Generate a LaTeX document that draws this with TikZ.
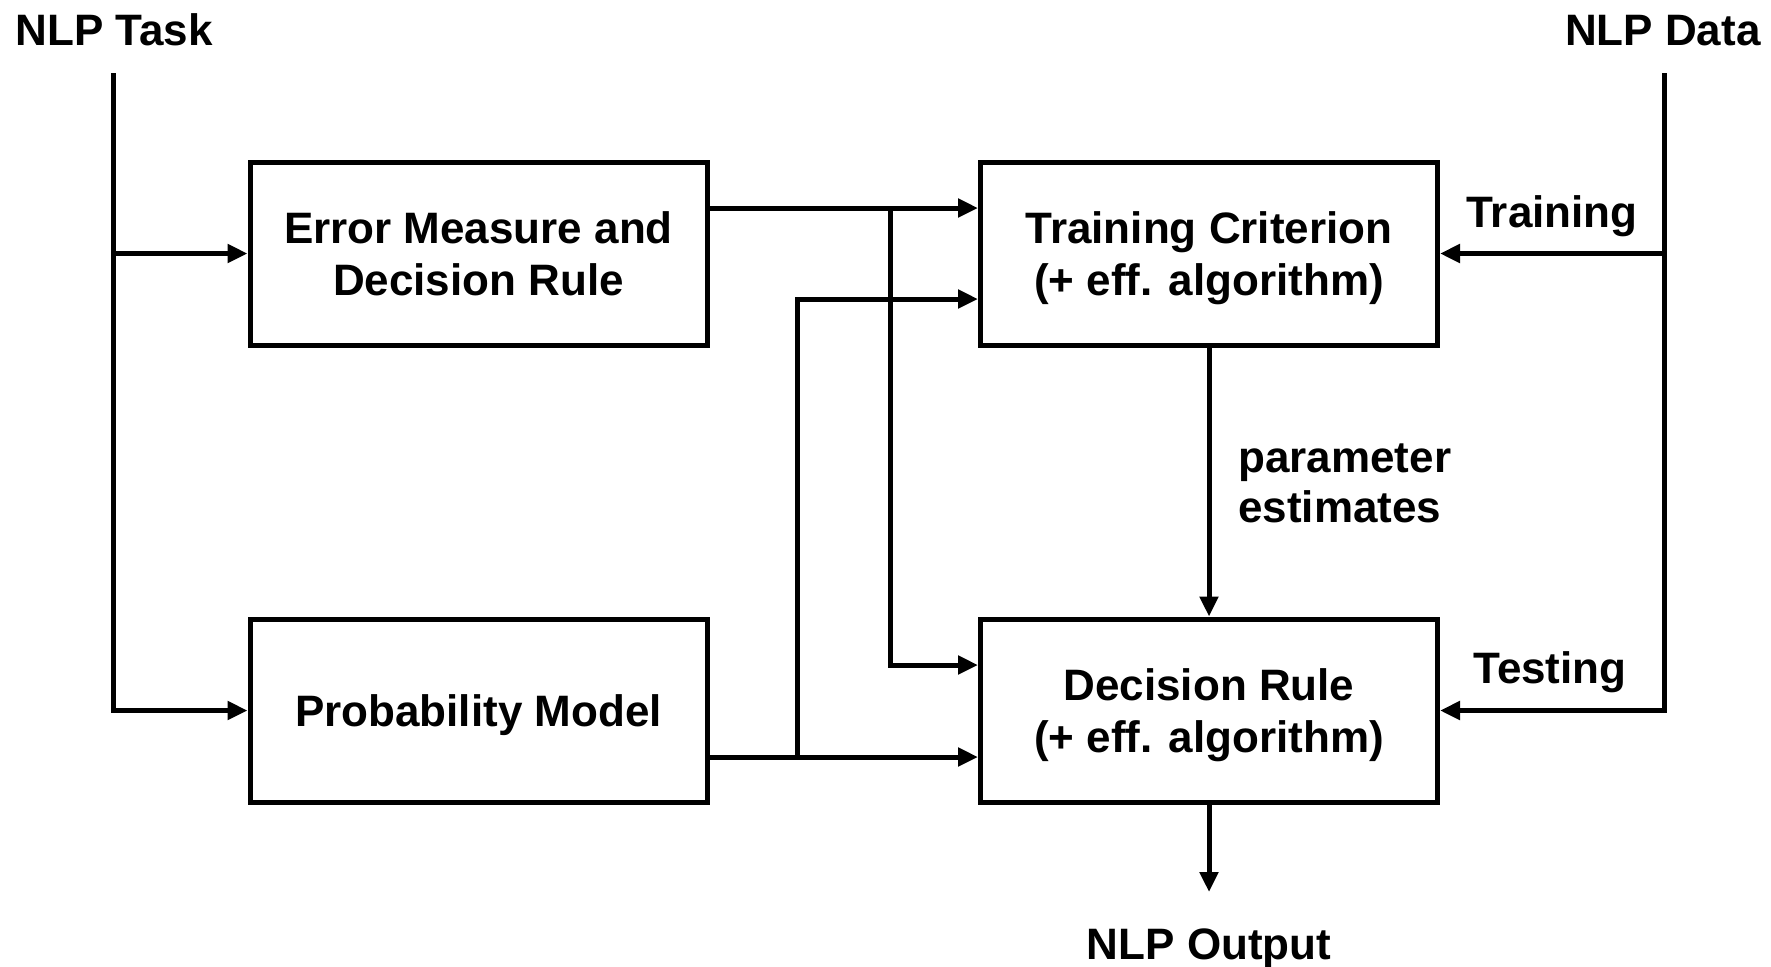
\documentclass[tikz,border=0pt]{standalone}
\usepackage{fontspec}
\setmainfont{Liberation Sans}
\usetikzlibrary{arrows.meta}
\begin{document}
\begin{tikzpicture}[x=0.5pt,y=-0.5pt,
  every node/.style={font=\fontsize{22}{26}\selectfont\bfseries},
  blk/.style={draw, line width=2.5pt, minimum width=228.5pt, minimum height=91.5pt,
              align=center, text depth=0pt, inner sep=0pt},
  lbl/.style={inner sep=0pt},
  conn/.style={line width=2.5pt},
  arr/.style={conn, -{Triangle[length=10pt,width=9pt]}}]
\useasboundingbox (0,0) rectangle (1771,966);

\node[blk] (em) at (478.5,253.5) {Error Measure and\\Decision Rule};
\node[blk] (pm) at (478.5,710.5) {Probability Model};
\node[blk] (tc) at (1209,253.5) {Training Criterion\\(+ eff. algorithm)};
\node[blk] (dr) at (1209,710.5) {Decision Rule\\(+ eff. algorithm)};

\node[lbl, anchor=base west] (task) at (15,45) {NLP Task};
\node[lbl, anchor=base east] (data) at (1761,45) {NLP Data};
\node[lbl, anchor=base] (out) at (1209,959) {NLP Output};
\node[lbl, anchor=base] (trn) at (1552,227) {Training};
\node[lbl, anchor=base] (tst) at (1550,683) {Testing};
\node[lbl, anchor=base west, align=left, font=\fontsize{22}{25}\selectfont\bfseries] (pe) at (1238,522) {parameter\\estimates};

\coordinate (ts) at (113,73);
\coordinate (ds) at (1664,73);
\coordinate (r1) at (0,208);
\coordinate (r2) at (0,665);
\coordinate (r3) at (0,757);
\coordinate (r4) at (0,299);
\coordinate (j1) at (890,208);
\coordinate (j2) at (797,757);
\coordinate (o) at (1209,892);

\draw[arr] (ts) |- (pm.west);
\draw[arr] (ts |- em.west) -- (em.west);
\draw[arr] (ds) |- (dr.east);
\draw[arr] (ds |- tc.east) -- (tc.east);

\draw[arr] (em.east |- r1) -- (tc.west |- r1);
\draw[arr] (j1) |- (dr.west |- r2);
\draw[arr] (pm.east |- r3) -- (dr.west |- r3);
\draw[arr] (j2) |- (tc.west |- r4);

\draw[arr] (tc.south) -- (dr.north);
\draw[arr] (dr.south) -- (o);
\end{tikzpicture}
\end{document}
